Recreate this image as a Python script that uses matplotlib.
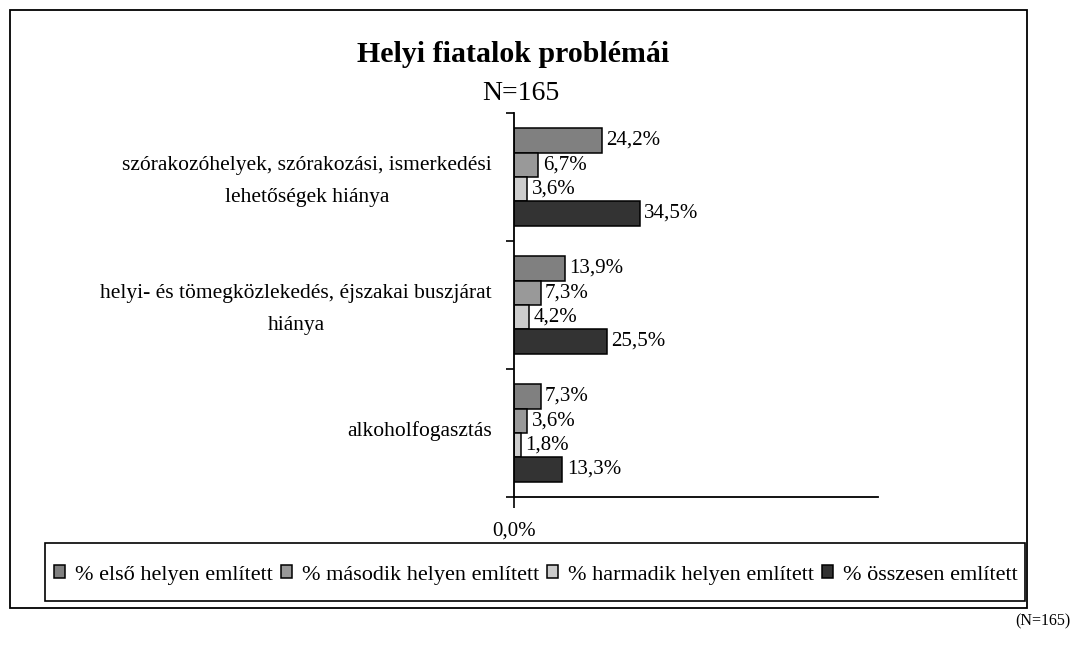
import matplotlib.pyplot as plt
import matplotlib.patches as mpatches
from matplotlib.transforms import Bbox
import numpy as np

plt.rcParams['font.family'] = ['Liberation Serif', 'DejaVu Serif']

# adatok
categories = ['szórakozóhelyek, szórakozási, ismerkedési\nlehetőségek hiánya',
              'helyi- és tömegközlekedés, éjszakai buszjárat\nhiánya',
              'alkoholfogasztás']
series_names = ['% első helyen említett', '% második helyen említett',
                '% harmadik helyen említett', '% összesen említett']
elso = [24.2, 13.9, 7.3]
masodik = [6.7, 7.3, 3.6]
harmadik = [3.6, 4.2, 1.8]
osszesen = [34.5, 25.5, 13.3]
series = [elso, masodik, harmadik, osszesen]
colors = ['#808080', '#999999', '#cccccc', '#333333']

fig = plt.figure(figsize=(10.89, 6.45), dpi=100)
ax = fig.add_axes([514/1089, 148/645, 364/1089, 384/645])

centers = np.arange(len(categories)) + 0.5
h = 0.19
for k, (vals, col, name) in enumerate(zip(series, colors, series_names)):
    y = centers + (k - 1.5) * h
    ax.barh(y, vals, height=h, color=col, edgecolor='black', linewidth=1.1, label=name)
    for yy, v in zip(y, vals):
        ax.text(v + 1.2, yy, f'{v:.1f}%'.replace('.', ','), va='center', ha='left', fontsize=15)

ax.set_xlim(0, 100)
ax.set_ylim(len(categories), 0)
ax.set_xticks([0])
ax.set_xticklabels(['0,0%'], fontsize=15)
ax.tick_params(axis='x', length=8, width=1.2, pad=10)
ax.set_yticks(np.arange(len(categories) + 1))
ax.set_yticklabels([])
ax.tick_params(axis='y', which='major', length=6, width=1.2)
# a kategórianevek kicsit a csoport közepe fölött
ax.set_yticks(centers - 0.035, minor=True)
ax.set_yticklabels(categories, minor=True, fontsize=15.5, linespacing=1.9)
ax.tick_params(axis='y', which='minor', length=0, pad=16)
for lbl in ax.get_yticklabels(minor=True):
    lbl.set_multialignment('center')
for s in ['top', 'right']:
    ax.spines[s].set_visible(False)
ax.spines['left'].set_linewidth(1.3)
ax.spines['bottom'].set_linewidth(1.3)

fig.text(513/1089, 1 - 55/645, 'Helyi fiatalok problémái', ha='center', va='center',
         fontsize=21.5, fontweight='bold')
fig.text(521/1089, 1 - 94/645, 'N=165', ha='center', va='center', fontsize=20)
fig.text(1070/1089, 1 - 621/645, '(N=165)', ha='right', va='center', fontsize=11.5)

# keret
fig.patches.append(mpatches.Rectangle((10/1089, 37/645), 1017/1089, 598/645,
                                      transform=fig.transFigure, fill=False,
                                      edgecolor='black', linewidth=1.3))
fig.patches.append(mpatches.Rectangle((45/1089, 44/645), 980/1089, 58/645,
                                      transform=fig.transFigure, fill=False,
                                      edgecolor='black', linewidth=1.2))

leg = fig.legend(loc='center left', ncol=4, bbox_to_anchor=(54/1089, 70/645),
                 fontsize=16, handlelength=0.5, handleheight=0.5,
                 handletextpad=0.45, columnspacing=0.35, borderaxespad=0, borderpad=0,
                 frameon=False)
clip = Bbox.from_extents(0, 0, 1025, 645)
for t in leg.get_texts():
    t.set_clip_on(True)
    t.set_clip_box(clip)

fig.savefig('out.png', dpi=100)
